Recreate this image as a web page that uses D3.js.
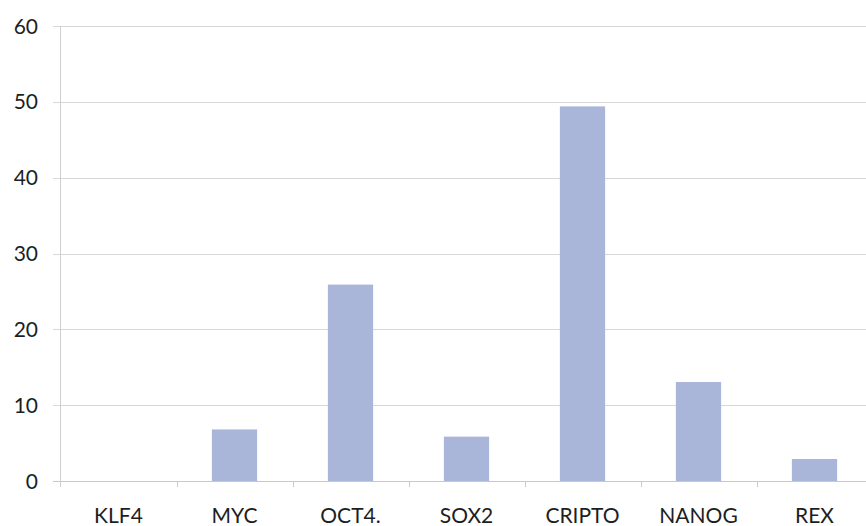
<!DOCTYPE html>
<html>
<head>
<meta charset="utf-8">
<script src="https://cdn.jsdelivr.net/npm/d3@7/dist/d3.min.js"></script>
<style>
  html, body { margin: 0; padding: 0; background: #fff; }
  svg { display: block; }
  text { font-family: Lato, "Open Sans", sans-serif; fill: #1e1e1e; }
</style>
</head>
<body>
<svg id="chart" width="866" height="526"></svg>
<script>
const categories = ["KLF4", "MYC", "OCT4.", "SOX2", "CRIPTO", "NANOG", "REX"];
const values = [0, 6.8, 25.9, 5.85, 49.4, 13.05, 2.9];
const yTicks = [0, 10, 20, 30, 40, 50, 60];

const svg = d3.select("#chart");
const plotLeft = 60.5, step = 116, plotTop = 26, plotBottom = 481;
const plotRight = plotLeft + step * categories.length;

const x = d3.scaleBand()
  .domain(categories)
  .range([plotLeft, plotRight])
  .paddingInner(0.61)
  .paddingOuter(0.305);

const y = d3.scaleLinear().domain([0, 60]).range([plotBottom, plotTop]);

// gridlines
svg.append("g").selectAll("line").data(yTicks).join("line")
  .attr("x1", 53).attr("x2", 866)
  .attr("y1", d => Math.round(y(d)) + 0.5).attr("y2", d => Math.round(y(d)) + 0.5)
  .attr("stroke", d => d === 0 ? "#c8c8c8" : "#d8d8d8")
  .attr("stroke-width", 1);

// y axis line
svg.append("line")
  .attr("x1", plotLeft).attr("x2", plotLeft)
  .attr("y1", y(60)).attr("y2", plotBottom + 6)
  .attr("stroke", "#cfcfcf");

// category boundary ticks
const bounds = d3.range(1, categories.length).map(i => x.range()[0] + i * x.step());
svg.append("g").selectAll("line").data(bounds).join("line")
  .attr("x1", d => Math.round(d) + 0.5).attr("x2", d => Math.round(d) + 0.5)
  .attr("y1", plotBottom).attr("y2", plotBottom + 6)
  .attr("stroke", "#c8c8c8");

// y labels
svg.append("g").selectAll("text").data(yTicks).join("text")
  .attr("x", 38).attr("y", d => y(d))
  .attr("dy", "0.36em")
  .attr("text-anchor", "end")
  .attr("font-size", 21)
  .text(d => d);

// bars
svg.append("g").selectAll("rect").data(categories).join("rect")
  .attr("x", d => x(d))
  .attr("width", x.bandwidth())
  .attr("y", (d, i) => y(values[i]))
  .attr("height", (d, i) => plotBottom - y(values[i]))
  .attr("fill", "#aab5da");

// category labels
svg.append("g").selectAll("text").data(categories).join("text")
  .attr("x", d => x(d) + x.bandwidth() / 2)
  .attr("y", 523)
  .attr("text-anchor", "middle")
  .attr("font-size", 21)
  .text(d => d);
</script>
</body>
</html>
